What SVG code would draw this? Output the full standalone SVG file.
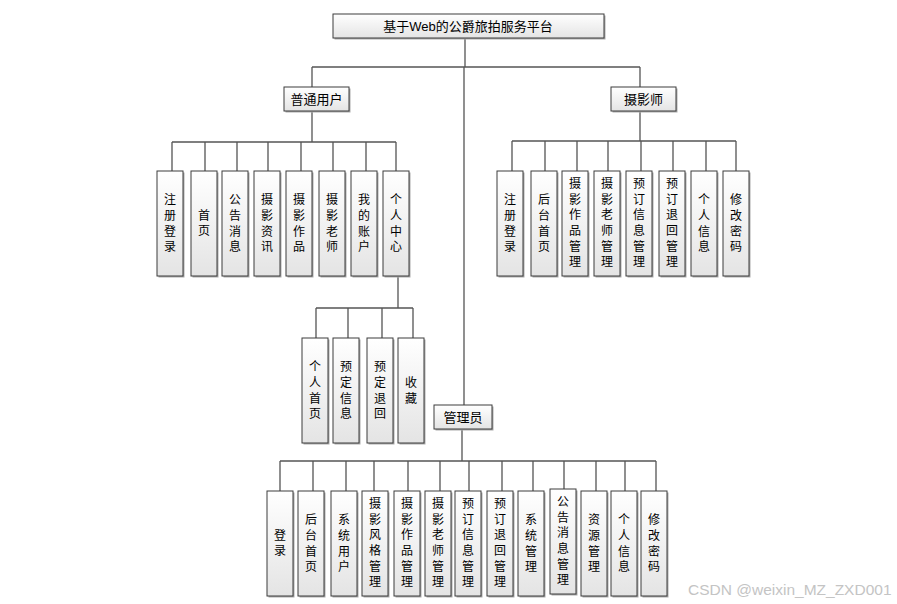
<svg xmlns="http://www.w3.org/2000/svg" width="897" height="604" viewBox="0 0 897 604">
<defs>
<linearGradient id="g" x1="0" y1="0" x2="0" y2="1">
<stop offset="0" stop-color="#ffffff"/>
<stop offset="1" stop-color="#e4e4e4"/>
</linearGradient>
<style>
.sh{fill:#ababab;}
.bx{fill:url(#g);stroke:#3c3c3c;stroke-width:1;}
.t{font-family:"Liberation Sans","Noto Sans CJK SC",sans-serif;font-size:12px;fill:#000;text-anchor:middle;dominant-baseline:central;}
.h{font-size:13px;}
.c line, .c path{stroke:#555;stroke-width:1.3;fill:none;}
.wm{font-family:"Liberation Sans",Arial,sans-serif;font-size:15.5px;fill:#c4c4c4;}
</style>
</defs>
<rect width="897" height="604" fill="#fff"/>

<g class="c" id="connectors">
<path d="M465 38V67M312 67H640M312 67V87M640 67V87M464 67V405"/>
<path d="M312 111V142M172 142H396M172 142V171M205 142V171M237 142V171M268 142V171M301 142V171M333 142V171M366 142V171M396 142V171"/>
<path d="M640 111V141M512 141H736M512 141V171M545 141V171M577 141V171M608 141V171M641 141V171M673 141V171M706 141V171M736 141V171"/>
<path d="M398 276V308M316 308H413M316 308V338M348 308V338M382 308V338M413 308V338"/>
<path d="M462 429V461M280 461H656M280 461V491M313 461V491M346 461V491M374 461V491M408 461V491M440 461V491M469 461V491M502 461V491M533 461V491M564 461V489M596 461V491M625 461V491M656 461V491"/>
</g>

<g id="root"><rect class="sh" x="334.5" y="15.5" width="271" height="24"/><rect class="bx" x="333" y="14" width="271" height="24"/><text class="t h" x="468" y="26">基于Web的公爵旅拍服务平台</text></g>
<g id="user"><rect class="sh" x="285.5" y="88.5" width="65" height="24"/><rect class="bx" x="284" y="87" width="65" height="24"/><text class="t h" x="316.5" y="99">普通用户</text></g>
<g id="photographer"><rect class="sh" x="612.5" y="88.5" width="65" height="24"/><rect class="bx" x="611" y="87" width="65" height="24"/><text class="t h" x="643.5" y="99">摄影师</text></g>
<g id="admin"><rect class="sh" x="435.5" y="406.5" width="58" height="24"/><rect class="bx" x="434" y="405" width="58" height="24"/><text class="t h" x="463" y="417">管理员</text></g>

<!-- user children -->
<g id="u1"><rect class="sh" x="158.5" y="172.5" width="26" height="105"/><rect class="bx" x="157" y="171" width="26" height="105"/><text class="t" x="170"><tspan x="170" y="200">注</tspan><tspan x="170" y="216">册</tspan><tspan x="170" y="232">登</tspan><tspan x="170" y="247">录</tspan></text></g>
<g id="u2"><rect class="sh" x="192.5" y="172.5" width="26" height="105"/><rect class="bx" x="191" y="171" width="26" height="105"/><text class="t" x="204"><tspan x="204" y="216">首</tspan><tspan x="204" y="231">页</tspan></text></g>
<g id="u3"><rect class="sh" x="223.5" y="172.5" width="26" height="105"/><rect class="bx" x="222" y="171" width="26" height="105"/><text class="t" x="235"><tspan x="235" y="200">公</tspan><tspan x="235" y="216">告</tspan><tspan x="235" y="232">消</tspan><tspan x="235" y="247">息</tspan></text></g>
<g id="u4"><rect class="sh" x="255.5" y="172.5" width="26" height="105"/><rect class="bx" x="254" y="171" width="26" height="105"/><text class="t" x="267"><tspan x="267" y="200">摄</tspan><tspan x="267" y="216">影</tspan><tspan x="267" y="232">资</tspan><tspan x="267" y="247">讯</tspan></text></g>
<g id="u5"><rect class="sh" x="287.5" y="172.5" width="26" height="105"/><rect class="bx" x="286" y="171" width="26" height="105"/><text class="t" x="299"><tspan x="299" y="200">摄</tspan><tspan x="299" y="216">影</tspan><tspan x="299" y="232">作</tspan><tspan x="299" y="247">品</tspan></text></g>
<g id="u6"><rect class="sh" x="320.5" y="172.5" width="26" height="105"/><rect class="bx" x="319" y="171" width="26" height="105"/><text class="t" x="332"><tspan x="332" y="200">摄</tspan><tspan x="332" y="216">影</tspan><tspan x="332" y="232">老</tspan><tspan x="332" y="247">师</tspan></text></g>
<g id="u7"><rect class="sh" x="352.5" y="172.5" width="26" height="105"/><rect class="bx" x="351" y="171" width="26" height="105"/><text class="t" x="364"><tspan x="364" y="200">我</tspan><tspan x="364" y="216">的</tspan><tspan x="364" y="232">账</tspan><tspan x="364" y="247">户</tspan></text></g>
<g id="u8"><rect class="sh" x="384.5" y="172.5" width="26" height="105"/><rect class="bx" x="383" y="171" width="26" height="105"/><text class="t" x="396"><tspan x="396" y="200">个</tspan><tspan x="396" y="216">人</tspan><tspan x="396" y="232">中</tspan><tspan x="396" y="247">心</tspan></text></g>

<!-- personal center children -->
<g id="p1"><rect class="sh" x="303.5" y="339.5" width="26" height="105"/><rect class="bx" x="302" y="338" width="26" height="105"/><text class="t" x="315"><tspan x="315" y="367">个</tspan><tspan x="315" y="383">人</tspan><tspan x="315" y="399">首</tspan><tspan x="315" y="414">页</tspan></text></g>
<g id="p2"><rect class="sh" x="334.5" y="339.5" width="26" height="105"/><rect class="bx" x="333" y="338" width="26" height="105"/><text class="t" x="346"><tspan x="346" y="367">预</tspan><tspan x="346" y="383">定</tspan><tspan x="346" y="399">信</tspan><tspan x="346" y="414">息</tspan></text></g>
<g id="p3"><rect class="sh" x="368.5" y="339.5" width="26" height="105"/><rect class="bx" x="367" y="338" width="26" height="105"/><text class="t" x="380"><tspan x="380" y="367">预</tspan><tspan x="380" y="383">定</tspan><tspan x="380" y="399">退</tspan><tspan x="380" y="414">回</tspan></text></g>
<g id="p4"><rect class="sh" x="399.5" y="339.5" width="26" height="105"/><rect class="bx" x="398" y="338" width="26" height="105"/><text class="t" x="411"><tspan x="411" y="383">收</tspan><tspan x="411" y="399">藏</tspan></text></g>

<!-- photographer children -->
<g id="s1"><rect class="sh" x="498.5" y="172.5" width="26" height="105"/><rect class="bx" x="497" y="171" width="26" height="105"/><text class="t" x="510"><tspan x="510" y="200">注</tspan><tspan x="510" y="216">册</tspan><tspan x="510" y="232">登</tspan><tspan x="510" y="247">录</tspan></text></g>
<g id="s2"><rect class="sh" x="532.5" y="172.5" width="26" height="105"/><rect class="bx" x="531" y="171" width="26" height="105"/><text class="t" x="544"><tspan x="544" y="200">后</tspan><tspan x="544" y="216">台</tspan><tspan x="544" y="232">首</tspan><tspan x="544" y="247">页</tspan></text></g>
<g id="s3"><rect class="sh" x="563.5" y="172.5" width="26" height="105"/><rect class="bx" x="562" y="171" width="26" height="105"/><text class="t" x="575"><tspan x="575" y="184">摄</tspan><tspan x="575" y="200">影</tspan><tspan x="575" y="215">作</tspan><tspan x="575" y="231">品</tspan><tspan x="575" y="247">管</tspan><tspan x="575" y="262">理</tspan></text></g>
<g id="s4"><rect class="sh" x="595.5" y="172.5" width="26" height="105"/><rect class="bx" x="594" y="171" width="26" height="105"/><text class="t" x="607"><tspan x="607" y="184">摄</tspan><tspan x="607" y="200">影</tspan><tspan x="607" y="215">老</tspan><tspan x="607" y="231">师</tspan><tspan x="607" y="247">管</tspan><tspan x="607" y="262">理</tspan></text></g>
<g id="s5"><rect class="sh" x="627.5" y="172.5" width="26" height="105"/><rect class="bx" x="626" y="171" width="26" height="105"/><text class="t" x="639"><tspan x="639" y="184">预</tspan><tspan x="639" y="200">订</tspan><tspan x="639" y="215">信</tspan><tspan x="639" y="231">息</tspan><tspan x="639" y="247">管</tspan><tspan x="639" y="262">理</tspan></text></g>
<g id="s6"><rect class="sh" x="660.5" y="172.5" width="26" height="105"/><rect class="bx" x="659" y="171" width="26" height="105"/><text class="t" x="672"><tspan x="672" y="184">预</tspan><tspan x="672" y="200">订</tspan><tspan x="672" y="215">退</tspan><tspan x="672" y="231">回</tspan><tspan x="672" y="247">管</tspan><tspan x="672" y="262">理</tspan></text></g>
<g id="s7"><rect class="sh" x="692.5" y="172.5" width="26" height="105"/><rect class="bx" x="691" y="171" width="26" height="105"/><text class="t" x="704"><tspan x="704" y="200">个</tspan><tspan x="704" y="216">人</tspan><tspan x="704" y="232">信</tspan><tspan x="704" y="247">息</tspan></text></g>
<g id="s8"><rect class="sh" x="724.5" y="172.5" width="26" height="105"/><rect class="bx" x="723" y="171" width="26" height="105"/><text class="t" x="736"><tspan x="736" y="200">修</tspan><tspan x="736" y="216">改</tspan><tspan x="736" y="232">密</tspan><tspan x="736" y="247">码</tspan></text></g>

<!-- admin children -->
<g id="a1"><rect class="sh" x="268.5" y="492.5" width="26" height="105"/><rect class="bx" x="267" y="491" width="26" height="105"/><text class="t" x="280"><tspan x="280" y="536">登</tspan><tspan x="280" y="551">录</tspan></text></g>
<g id="a2"><rect class="sh" x="299.5" y="492.5" width="26" height="105"/><rect class="bx" x="298" y="491" width="26" height="105"/><text class="t" x="311"><tspan x="311" y="520">后</tspan><tspan x="311" y="536">台</tspan><tspan x="311" y="552">首</tspan><tspan x="311" y="567">页</tspan></text></g>
<g id="a3"><rect class="sh" x="332.5" y="492.5" width="26" height="105"/><rect class="bx" x="331" y="491" width="26" height="105"/><text class="t" x="344"><tspan x="344" y="520">系</tspan><tspan x="344" y="536">统</tspan><tspan x="344" y="552">用</tspan><tspan x="344" y="567">户</tspan></text></g>
<g id="a4"><rect class="sh" x="363.5" y="492.5" width="26" height="105"/><rect class="bx" x="362" y="491" width="26" height="105"/><text class="t" x="375"><tspan x="375" y="504">摄</tspan><tspan x="375" y="520">影</tspan><tspan x="375" y="535">风</tspan><tspan x="375" y="551">格</tspan><tspan x="375" y="567">管</tspan><tspan x="375" y="582">理</tspan></text></g>
<g id="a5"><rect class="sh" x="395.5" y="492.5" width="26" height="105"/><rect class="bx" x="394" y="491" width="26" height="105"/><text class="t" x="407"><tspan x="407" y="504">摄</tspan><tspan x="407" y="520">影</tspan><tspan x="407" y="535">作</tspan><tspan x="407" y="551">品</tspan><tspan x="407" y="567">管</tspan><tspan x="407" y="582">理</tspan></text></g>
<g id="a6"><rect class="sh" x="426.5" y="492.5" width="26" height="105"/><rect class="bx" x="425" y="491" width="26" height="105"/><text class="t" x="438"><tspan x="438" y="504">摄</tspan><tspan x="438" y="520">影</tspan><tspan x="438" y="535">老</tspan><tspan x="438" y="551">师</tspan><tspan x="438" y="567">管</tspan><tspan x="438" y="582">理</tspan></text></g>
<g id="a7"><rect class="sh" x="456.5" y="492.5" width="26" height="105"/><rect class="bx" x="455" y="491" width="26" height="105"/><text class="t" x="468"><tspan x="468" y="504">预</tspan><tspan x="468" y="520">订</tspan><tspan x="468" y="535">信</tspan><tspan x="468" y="551">息</tspan><tspan x="468" y="567">管</tspan><tspan x="468" y="582">理</tspan></text></g>
<g id="a8"><rect class="sh" x="488.5" y="492.5" width="26" height="105"/><rect class="bx" x="487" y="491" width="26" height="105"/><text class="t" x="500"><tspan x="500" y="504">预</tspan><tspan x="500" y="520">订</tspan><tspan x="500" y="535">退</tspan><tspan x="500" y="551">回</tspan><tspan x="500" y="567">管</tspan><tspan x="500" y="582">理</tspan></text></g>
<g id="a9"><rect class="sh" x="519.5" y="492.5" width="26" height="105"/><rect class="bx" x="518" y="491" width="26" height="105"/><text class="t" x="531"><tspan x="531" y="520">系</tspan><tspan x="531" y="536">统</tspan><tspan x="531" y="552">管</tspan><tspan x="531" y="567">理</tspan></text></g>
<g id="a10"><rect class="sh" x="551.5" y="490.5" width="26" height="105"/><rect class="bx" x="550" y="489" width="26" height="105"/><text class="t" x="563"><tspan x="563" y="502">公</tspan><tspan x="563" y="518">告</tspan><tspan x="563" y="533">消</tspan><tspan x="563" y="549">息</tspan><tspan x="563" y="565">管</tspan><tspan x="563" y="580">理</tspan></text></g>
<g id="a11"><rect class="sh" x="582.5" y="492.5" width="26" height="105"/><rect class="bx" x="581" y="491" width="26" height="105"/><text class="t" x="594"><tspan x="594" y="520">资</tspan><tspan x="594" y="536">源</tspan><tspan x="594" y="552">管</tspan><tspan x="594" y="567">理</tspan></text></g>
<g id="a12"><rect class="sh" x="612.5" y="492.5" width="26" height="105"/><rect class="bx" x="611" y="491" width="26" height="105"/><text class="t" x="624"><tspan x="624" y="520">个</tspan><tspan x="624" y="536">人</tspan><tspan x="624" y="552">信</tspan><tspan x="624" y="567">息</tspan></text></g>
<g id="a13"><rect class="sh" x="642.5" y="492.5" width="26" height="105"/><rect class="bx" x="641" y="491" width="26" height="105"/><text class="t" x="654"><tspan x="654" y="520">修</tspan><tspan x="654" y="536">改</tspan><tspan x="654" y="552">密</tspan><tspan x="654" y="567">码</tspan></text></g>

<text class="wm" x="688" y="595">CSDN @weixin_MZ_ZXD001</text>
</svg>
